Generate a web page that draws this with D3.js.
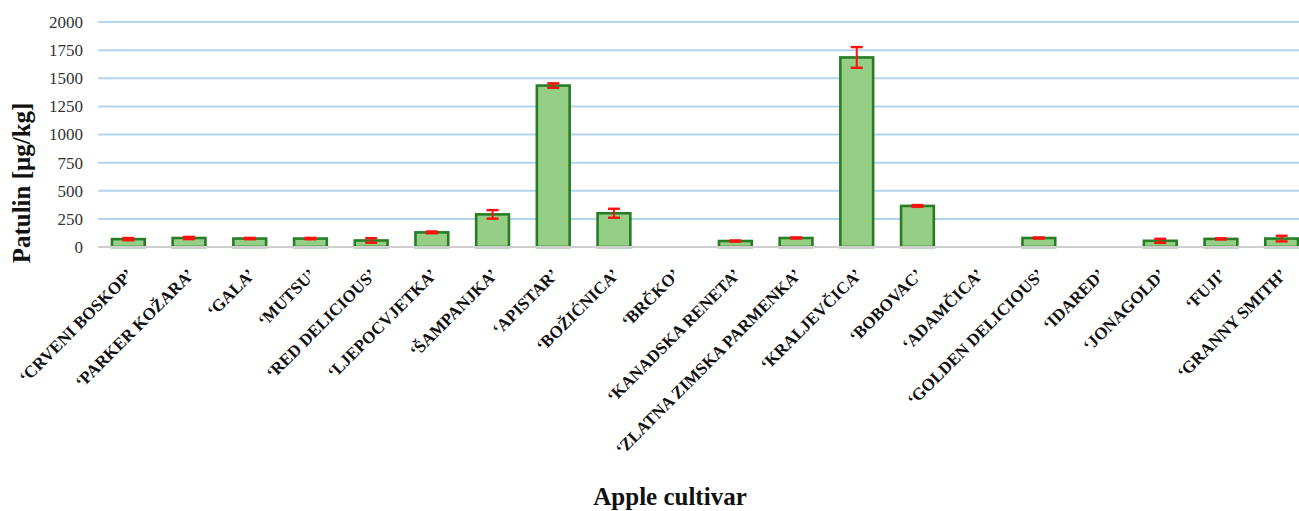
<!DOCTYPE html>
<html>
<head>
<meta charset="utf-8">
<title></title>
<script src="https://cdn.jsdelivr.net/npm/d3@7"></script>
<style>
  body {margin:0; background:#fff;}
  svg text {font-family:"Liberation Serif","DejaVu Serif",serif;}
</style>
</head>
<body>
<svg id="svg1" width="1299" height="511"></svg>
<script>
// data
var cultivars = ["‘CRVENI BOSKOP’", "‘PARKER KOŽARA’", "‘GALA’", "‘MUTSU’", "‘RED DELICIOUS’",
  "‘LJEPOCVJETKA’", "‘ŠAMPANJKA’", "‘APISTAR’", "‘BOŽIĆNICA’", "‘BRČKO’",
  "‘KANADSKA RENETA’", "‘ZLATNA ZIMSKA PARMENKA’", "‘KRALJEVČICA’", "‘BOBOVAC’", "‘ADAMČICA’",
  "‘GOLDEN DELICIOUS’", "‘IDARED’", "‘JONAGOLD’", "‘FUJI’", "‘GRANNY SMITH’"];
var patulin = [70, 80, 75, 75, 58, 130, 290, 1435, 300, 0, 53, 80, 1685, 365, 0, 80, 0, 55, 72, 75];
var errors  = [10, 10, 6, 6, 20, 8, 38, 20, 40, 0, 5, 5, 92, 8, 0, 5, 0, 18, 5, 25];
var yTicks  = [0, 250, 500, 750, 1000, 1250, 1500, 1750, 2000];

var svg = d3.select('#svg1');

var x = d3.scaleBand().domain(cultivars).range([98, 1312]).paddingInner(0.46).paddingOuter(0.23);
var y = d3.scaleLinear().domain([0, 2000]).range([247, 22]);

// grid lines
svg.append('g').selectAll('line').data(yTicks.slice(1)).join('line')
  .attr('x1', 98).attr('x2', 1299)
  .attr('y1', d => y(d)).attr('y2', d => y(d))
  .attr('stroke', '#b4d3ee').attr('stroke-width', 2);

// y axis labels
var yAxis = d3.axisLeft(y).tickValues(yTicks).tickFormat(d3.format('d')).tickSize(0).tickPadding(0);
var gy = svg.append('g').attr('transform', 'translate(83,0)').call(yAxis);
gy.select('.domain').remove();
gy.selectAll('text').attr('font-size', 17).attr('fill', '#333')
  .style('font-family', '"Liberation Serif","DejaVu Serif",serif');

// bars
svg.append('g').selectAll('rect').data(patulin).join('rect')
  .attr('x', (d, i) => x(cultivars[i]))
  .attr('y', d => y(d))
  .attr('width', x.bandwidth())
  .attr('height', d => y(0) - y(d))
  .attr('fill', '#95cf86')
  .attr('stroke', d => d > 0 ? '#267d23' : 'none')
  .attr('stroke-width', 2.6);

// x axis baseline + rotated labels
var xAxis = d3.axisBottom(x).tickSize(0).tickPadding(0);
var gx = svg.append('g').attr('transform', 'translate(0,' + y(0) + ')').call(xAxis);
gx.select('.domain').attr('stroke', '#cfcfcf').attr('stroke-width', 2)
  .attr('d', 'M98,0H1299');
gx.selectAll('text')
  .attr('font-size', 17).attr('font-weight', 'bold').attr('fill', '#111')
  .style('font-family', '"Liberation Serif","DejaVu Serif",serif')
  .attr('text-anchor', 'end')
  .attr('dy', 0)
  .attr('transform', 'translate(6,29) rotate(-45)');

// error bars
var eb = svg.append('g').attr('stroke', '#ff1010').attr('stroke-width', 2);
patulin.forEach(function (v, i) {
  if (v === 0) return;
  var cx = x(cultivars[i]) + x.bandwidth() / 2;
  var lo = y(v - errors[i]), hi = y(v + errors[i]);
  eb.append('line').attr('x1', cx).attr('x2', cx).attr('y1', lo).attr('y2', hi);
  eb.append('line').attr('x1', cx - 6).attr('x2', cx + 6).attr('y1', lo).attr('y2', lo).attr('stroke-width', 2.4);
  eb.append('line').attr('x1', cx - 6).attr('x2', cx + 6).attr('y1', hi).attr('y2', hi).attr('stroke-width', 2.4);
});

// titles
svg.append('text')
  .attr('transform', 'translate(30,183) rotate(-90)')
  .attr('text-anchor', 'middle')
  .attr('font-size', 25).attr('font-weight', 'bold').attr('fill', '#111')
  .text('Patulin [μg/kg]');

svg.append('text')
  .attr('x', 670).attr('y', 505)
  .attr('text-anchor', 'middle')
  .attr('font-size', 25).attr('font-weight', 'bold').attr('fill', '#111')
  .text('Apple cultivar');
</script>
</body>
</html>
